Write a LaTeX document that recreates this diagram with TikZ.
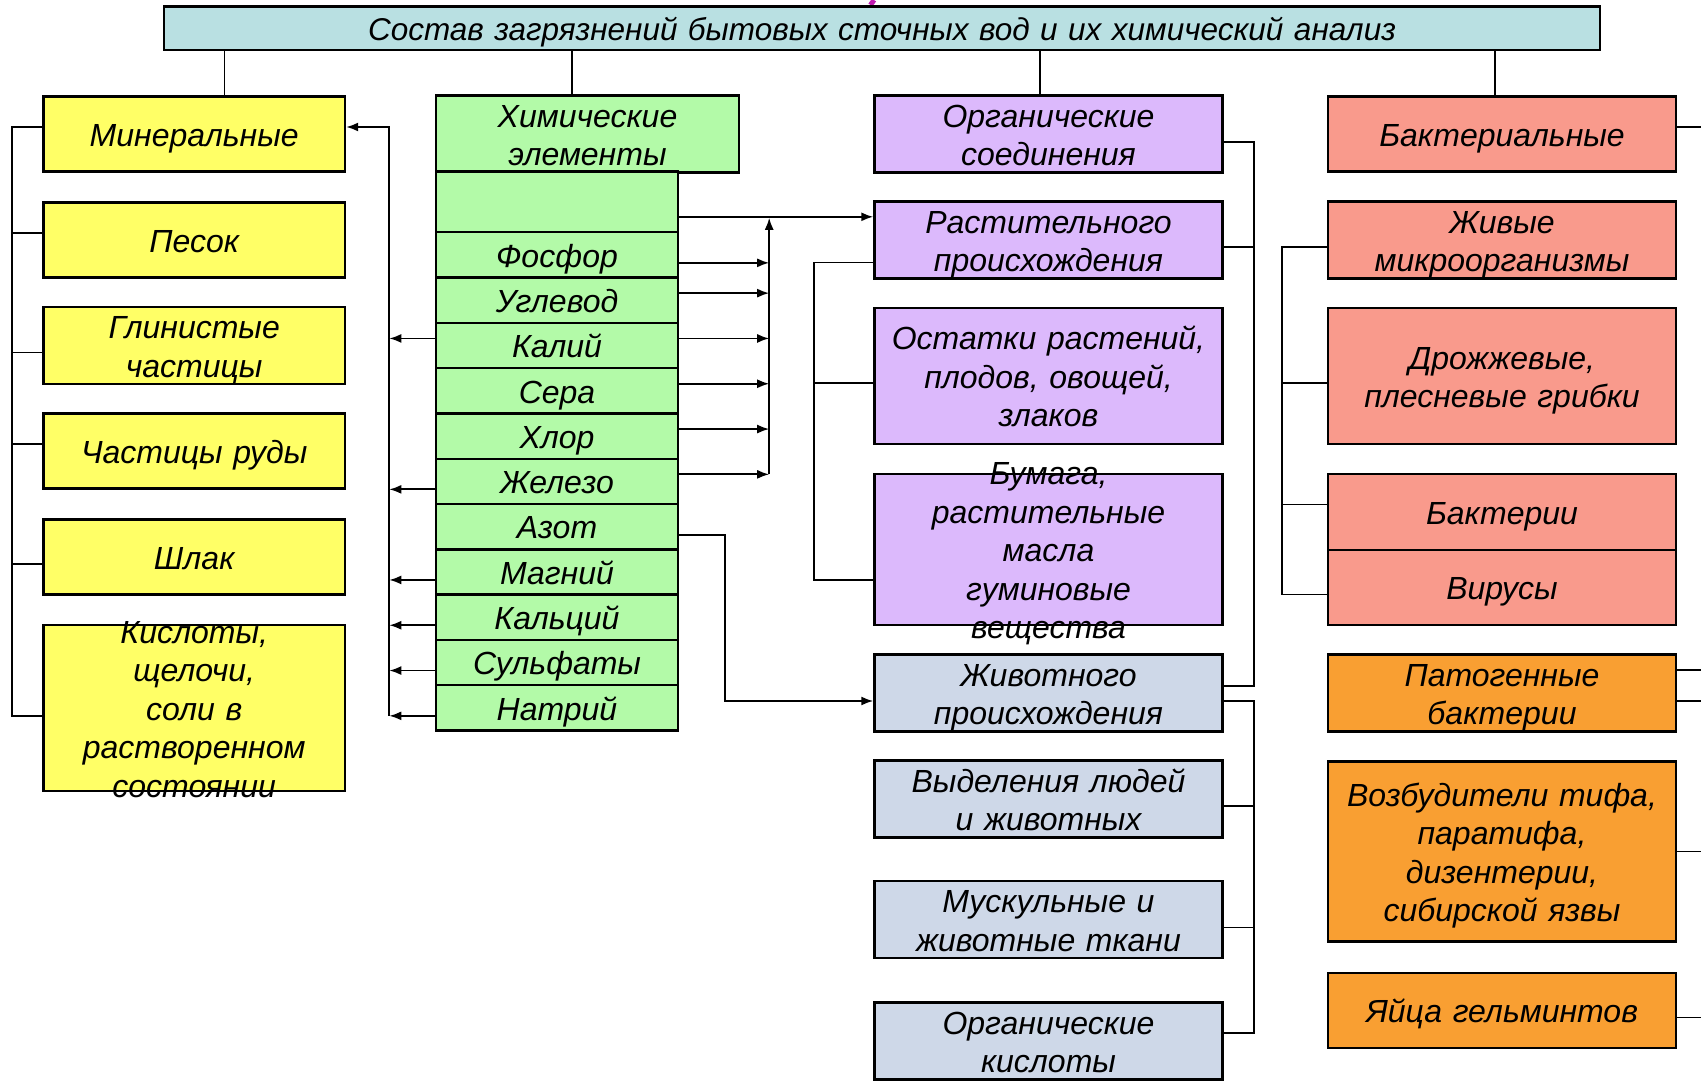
\documentclass[tikz,border=0pt]{standalone}
\usepackage{fontspec}
\setmainfont{Liberation Sans}
\usepackage{xcolor}
\usetikzlibrary{positioning,calc,arrows.meta}
\definecolor{CTitle}{HTML}{B9E0E2}
\definecolor{CYellow}{HTML}{FFFF66}
\definecolor{CGreen}{HTML}{B3FAA8}
\definecolor{CPurple}{HTML}{DCB9FC}
\definecolor{CBlue}{HTML}{CED8E8}
\definecolor{CSalmon}{HTML}{F99A8C}
\definecolor{COrange}{HTML}{F99F32}
\definecolor{CMagenta}{HTML}{C01CB0}

\tikzset{
  every node/.style={align=center, font=\itshape\fontsize{32}{38.5}\selectfont,
    inner sep=0pt,
    execute at begin node={\rule{0pt}{31.5pt}},
    execute at end node={\rule[-7pt]{0pt}{0pt}}},
  box/.style={draw=black, line width=2.4pt, minimum height=75pt},
  ybox/.style={box, fill=CYellow, text width=301.6pt},
  gbox/.style={box, fill=CGreen, text width=242pt, minimum height=45.3pt},
  pbox/.style={box, fill=CPurple, text width=348pt},
  bbox/.style={box, fill=CBlue, text width=348pt},
  sbox/.style={box, fill=CSalmon, text width=348pt},
  obox/.style={box, fill=COrange, text width=348pt},
  conn/.style={line width=1.8pt},
  arr/.style={conn, -{Latex[length=12pt,width=9pt]}}
}

\begin{document}
\begin{tikzpicture}[x=1pt,y=-1pt]
  \useasboundingbox[fill=white] (0,0) rectangle (1701,1081);
  \draw[CMagenta, line width=5pt] (874,0) -- (870.5,5);

  % title
  \node[box, fill=CTitle, text width=1436pt, minimum height=43.5pt,
    font=\itshape\fontsize{31.5}{38.5}\selectfont] (title) at (882,28.3)
    {Состав загрязнений бытовых сточных вод и их химический анализ};

  % mineral column
  \node[ybox] (miner) at (194.2,134) {Минеральные};
  \node[ybox] (pesok) at (194.2,240) {Песок};
  \node[ybox] (glina) at (194.2,345.5) {Глинистые\\частицы};
  \node[ybox] (ruda)  at (194.2,451) {Частицы руды};
  \node[ybox] (shlak) at (194.2,557) {Шлак};
  \node[ybox, minimum height=166pt] (kisl) at (194.2,708) {};
  \node[text width=301.6pt] (kisl-t) at (kisl) {Кислоты,\\щелочи,\\соли в\\растворенном\\состоянии};

  % chemical elements
  \node[gbox, text width=303pt, minimum height=75pt] (chem) at (587.5,134) {Химические\\элементы};
  \node[gbox, minimum height=60.8pt] (chem0) at (557,201.8) {};
  \node[gbox] (fosf)  at (557,254.85) {Фосфор};
  \node[gbox] (uglev) at (557,300.15) {Углевод};
  \node[gbox] (kali)  at (557,345.45) {Калий};
  \node[gbox] (sera)  at (557,390.75) {Сера};
  \node[gbox] (hlor)  at (557,436.05) {Хлор};
  \node[gbox] (zhel)  at (557,481.35) {Железо};
  \node[gbox] (azot)  at (557,526.65) {Азот};
  \node[gbox] (magn)  at (557,571.95) {Магний};
  \node[gbox] (kalc)  at (557,617.25) {Кальций};
  \node[gbox] (sulf)  at (557,662.55) {Сульфаты};
  \node[gbox] (natr)  at (557,707.85) {Натрий};

  % organic column
  \node[pbox] (orgs)  at (1048.5,134) {Органические\\соединения};
  \node[pbox] (rast)  at (1048.5,240) {Растительного\\происхождения};
  \node[pbox, minimum height=136pt] (ostat) at (1048.5,376) {Остатки растений,\\плодов, овощей,\\злаков};
  \node[pbox, minimum height=151pt] (bumaga) at (1048.5,549.5) {};
  \node[text width=348pt] (bumaga-t) at (bumaga) {Бумага,\\растительные\\масла\\гуминовые\\вещества};
  \node[bbox] (zhiv)   at (1048.5,693) {Животного\\происхождения};
  \node[bbox] (vydel)  at (1048.5,799) {Выделения людей\\и животных};
  \node[bbox] (muskul) at (1048.5,919.5) {Мускульные и\\животные ткани};
  \node[bbox] (orgk)   at (1048.5,1041) {Органические\\кислоты};

  % bacterial column
  \node[sbox] (bakt)   at (1502,134) {Бактериальные};
  \node[sbox] (zhivm)  at (1502,240) {Живые\\микроорганизмы};
  \node[sbox, minimum height=136pt] (drozh) at (1502,376) {Дрожжевые,\\плесневые грибки};
  \node[sbox, minimum height=76pt] (bakter) at (1502,512) {Бактерии};
  \node[sbox] (virus)  at (1502,587.5) {Вирусы};
  \node[obox] (patog)  at (1502,693) {Патогенные\\бактерии};
  \node[obox, minimum height=180pt] (vozb) at (1502,851.5) {Возбудители тифа,\\паратифа,\\дизентерии,\\сибирской язвы};
  \node[obox] (yaica)  at (1502,1010.5) {Яйца гельминтов};

  % title drops
  \draw[conn] ([xshift=30.3pt]miner.north) -- ([xshift=30.3pt]miner.north |- title.south);
  \draw[conn] ([xshift=-15.8pt]chem.north) -- ([xshift=-15.8pt]chem.north |- title.south);
  \draw[conn] ([xshift=-8.5pt]orgs.north) -- ([xshift=-8.5pt]orgs.north |- title.south);
  \draw[conn] ([xshift=-7pt]bakt.north) -- ([xshift=-7pt]bakt.north |- title.south);

  % mineral bracket
  \draw[conn] ([yshift=7pt]miner.west) -- ++(-30.4,0) |- ([yshift=-8pt]kisl.west);
  \draw[conn] ([yshift=7pt]pesok.west) -- ++(-30.4,0);
  \draw[conn] ([yshift=-7pt]glina.west) -- ++(-30.4,0);
  \draw[conn] ([yshift=7pt]ruda.west) -- ++(-30.4,0);
  \draw[conn] ([yshift=-7pt]shlak.west) -- ++(-30.4,0);

  % elements to mineral
  \draw[arr] ([yshift=-8pt]natr.west) -- ++(-45.5,0) coordinate (busl);
  \draw[arr] (busl) |- ([yshift=7pt]miner.east);
  \draw[arr] ([yshift=7pt]kali.west) -- ++(-45.5,0);
  \draw[arr] ([yshift=-8pt]zhel.west) -- ++(-45.5,0);
  \draw[arr] ([yshift=-8pt]magn.west) -- ++(-45.5,0);
  \draw[arr] ([yshift=-8pt]kalc.west) -- ++(-45.5,0);
  \draw[arr] ([yshift=-8pt]sulf.west) -- ++(-45.5,0);

  % elements to organic
  \draw[arr] ([yshift=-15pt]chem0.east) -- ([yshift=-15pt]chem0.east -| rast.west);
  \draw[arr] ([yshift=-8pt]fosf.east) -- ++(90,0);
  \draw[arr] ([yshift=7pt]uglev.east) -- ++(90,0);
  \draw[arr] ([yshift=7pt]kali.east) -- ++(90,0);
  \draw[arr] ([yshift=7pt]sera.east) -- ++(90,0);
  \draw[arr] ([yshift=7pt]hlor.east) -- ++(90,0);
  \draw[arr] ([yshift=7pt]zhel.east) -- ++(90,0);
  \draw[arr] ([xshift=90pt,yshift=7pt]zhel.east) -- ([xshift=90pt,yshift=-16pt]chem0.east);
  \draw[arr] ([yshift=-8pt]azot.east) -- ++(45.6,0) |- ([yshift=-8pt]zhiv.west);

  % organic brackets
  \draw[conn] ([yshift=-22.5pt]rast.west) -- ++(-59.7,0) |- ([yshift=-30.5pt]bumaga.west);
  \draw[conn] ([yshift=-7pt]ostat.west) -- ++(-59.7,0);
  \draw[conn] ([yshift=-8pt]orgs.east) -- ++(30.4,0) |- ([yshift=7.4pt]zhiv.east);
  \draw[conn] ([yshift=-7pt]rast.east) -- ++(30.4,0);
  \draw[conn] ([yshift=-8pt]zhiv.east) -- ++(30.4,0) |- ([yshift=8pt]orgk.east);
  \draw[conn] ([yshift=-7pt]vydel.east) -- ++(30.4,0);
  \draw[conn] ([yshift=-8pt]muskul.east) -- ++(30.4,0);

  % bacterial bracket
  \draw[conn] ([yshift=-7pt]zhivm.west) -- ++(-44.5,0) |- ([yshift=-7pt]virus.west);
  \draw[conn] ([yshift=-7pt]drozh.west) -- ++(-44.5,0);
  \draw[conn] ([yshift=7.6pt]bakter.west) -- ++(-44.5,0);

  % lines off the right edge
  \draw[conn] ([yshift=7pt]bakt.east) -- ++(25,0);
  \draw[conn] ([yshift=23pt]patog.east) -- ++(25,0);
  \draw[conn] ([yshift=-8pt]patog.east) -- ++(25,0);
  \draw[conn] (vozb.east) -- ++(25,0);
  \draw[conn] ([yshift=-7pt]yaica.east) -- ++(25,0);
\end{tikzpicture}
\end{document}
